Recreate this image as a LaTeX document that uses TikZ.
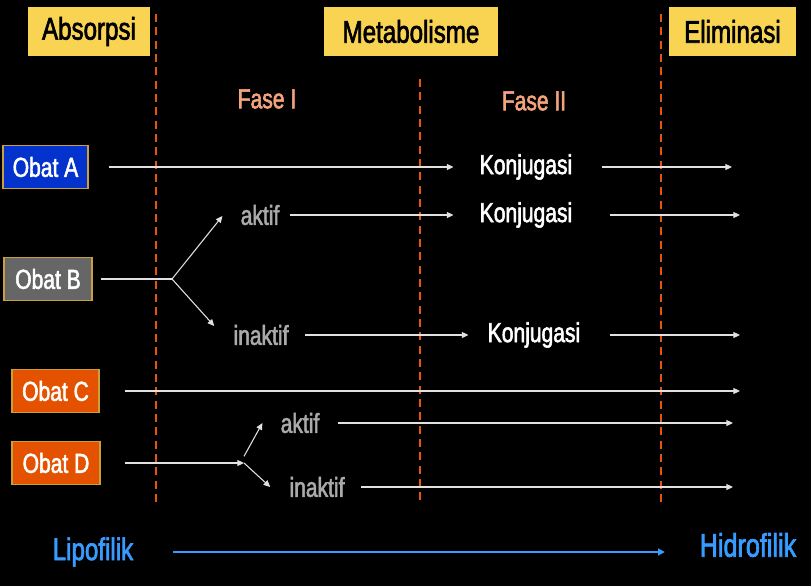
\documentclass[tikz,border=0pt]{standalone}
\usepackage{fontspec}
\setmainfont{Liberation Sans}[FakeStretch=0.77,FakeBold=2]
\usetikzlibrary{arrows.meta,positioning}
\definecolor{hdr}{RGB}{249,211,82}
\definecolor{obA}{RGB}{3,50,204}
\definecolor{obB}{RGB}{102,102,102}
\definecolor{obC}{RGB}{228,82,0}
\definecolor{gold}{RGB}{201,160,60}
\definecolor{dashor}{RGB}{230,85,15}
\definecolor{fase}{RGB}{244,164,125}
\definecolor{txtgray}{RGB}{170,170,170}
\definecolor{lineclr}{RGB}{225,225,225}
\definecolor{lipo}{RGB}{55,155,255}

\begin{document}
\begin{tikzpicture}[x=0.75pt,y=-0.75pt,
hbox/.style={fill=hdr,minimum height=36.75pt,inner xsep=0pt,font=\fontsize{23.5}{26}\selectfont},
obat/.style={draw=gold,line width=0.8pt,text=white,minimum height=32.25pt,inner xsep=0pt,font=\fontsize{20.5}{23}\selectfont},
lbl/.style={inner sep=0pt,font=\fontsize{20.5}{23}\selectfont},
wk/.style={lbl,text=white},gr/.style={lbl,text=txtgray},
ln/.style={draw=lineclr,line width=0.8pt},
arr/.style={ln,-{Triangle[length=5pt,width=4.5pt]}},
sep/.style={draw=dashor,line width=2pt,dash pattern=on 6pt off 4pt}]
\fill[black] (0,0) rectangle (811,586);
\useasboundingbox (0,0) rectangle (811,586);
% header
\node[hbox,minimum width=91.5pt] (abs) at (89,31.5) {Absorpsi};
\node[hbox,minimum width=130.5pt] (met) at (411,31.5) {Metabolisme};
\node[hbox,minimum width=95pt] (eli) at (732.5,31.5) {Eliminasi};
\node[lbl,text=fase] (f1) at (267,99) {Fase I};
\node[lbl,text=fase] (f2) at (534,101) {Fase II};
\foreach \x/\y in {156/14,420/79,661/14} \draw[sep] (\x,\y) -- (\x,503);
% obat
\node[obat,fill=obA,minimum width=63.75pt] (oA) at (45.5,167) {Obat A};
\node[obat,fill=obB,minimum width=66pt] (oB) at (48,279) {Obat B};
\node[obat,fill=obC,minimum width=65.25pt] (oC) at (55.5,391) {Obat C};
\node[obat,fill=obC,minimum width=66pt] (oD) at (56,463) {Obat D};
% row A
\node[wk] (kA) at (526,167) {Konjugasi};
\coordinate (eA) at (732,167);
\draw[arr,shorten <=15pt,shorten >=19.5pt] (oA) -- (kA);
\draw[arr,shorten <=22.5pt] (kA) -- (eA);
% row B
\coordinate (sB) at (172,279);
\node[gr] (aB) at (260,215) {aktif};
\node[wk] (kB) at (526,215) {Konjugasi};
\node[gr] (iB) at (261,335) {inaktif};
\node[wk] (kI) at (534,335) {Konjugasi};
\coordinate (eB) at (740,215);
\coordinate (eI) at (740,335);
\draw[ln,shorten <=6pt] (oB) -- (sB);
\draw[arr] (sB) -- ([xshift=-13.5pt,yshift=-0.75pt]aB.west);
\draw[arr] (sB) -- ([xshift=-14.25pt,yshift=6.75pt]iB.west);
\draw[arr,shorten <=7.5pt,shorten >=19.5pt] (aB) -- (kB);
\draw[arr,shorten <=28.5pt] (kB) -- (eB);
\draw[arr,shorten <=12pt,shorten >=14.25pt] (iB) -- (kI);
\draw[arr,shorten <=22.5pt] (kI) -- (eI);
% row C
\coordinate (eC) at (740,391);
\draw[arr,shorten <=18.75pt] (oC) -- (eC);
% row D
\coordinate (sD) at (244,463);
\node[gr] (aD) at (300,423) {aktif};
\node[gr] (iD) at (317,487) {inaktif};
\coordinate (eD1) at (733,423);
\coordinate (eD2) at (733,487);
\draw[arr,shorten <=18pt] (oD) -- (sD);
\draw[arr] ([yshift=5pt]sD) -- ([xshift=-13.5pt]aD.west);
\draw[arr] (sD) -- ([xshift=-14.25pt]iD.west);
\draw[arr,shorten <=13.5pt] (aD) -- (eD1);
\draw[arr,shorten <=12pt] (iD) -- (eD2);
% lipofilik -> hidrofilik
\node[inner sep=0pt,text=lipo,font=\fontsize{23.5}{26}\selectfont] (lipof) at (93,552) {Lipofilik};
\node[inner sep=0pt,text=lipo,font=\fontsize{24.5}{27}\selectfont] (hidro) at (748,545) {Hidrofilik};
\draw[lipo,line width=1.5pt,-{Triangle[length=5pt,width=5pt]},shorten <=30pt,shorten >=26pt] (lipof) -- (lipof -| hidro.west);
\end{tikzpicture}
\end{document}
